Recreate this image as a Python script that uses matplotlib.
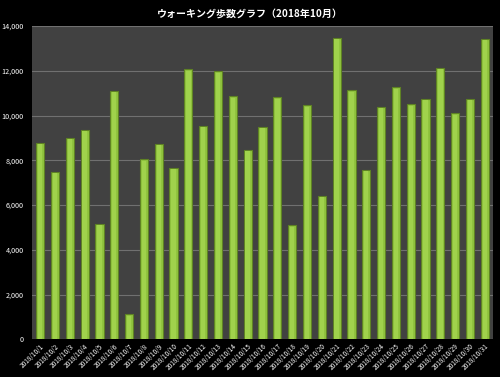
import matplotlib.pyplot as plt
from matplotlib.ticker import FuncFormatter

plt.rcParams['font.family'] = ['Noto Sans CJK JP', 'DejaVu Sans']

# =========================
# DATOS
# =========================
days = [f"2018/10/{d}" for d in range(1, 32)]
steps = [8780, 7500, 9010, 9370, 5180, 11100, 1120, 8050, 8750, 7680,
         12060, 9550, 11970, 10860, 8480, 9500, 10810, 5100, 10460, 6410,
         13470, 11120, 7580, 10380, 11260, 10500, 10750, 12130, 10100, 10750,
         13430]
title = "ウォーキング歩数グラフ（2018年10月）"

# =========================
# GRÁFICO
# =========================
fig = plt.figure(figsize=(5, 3.77), dpi=100, facecolor='black')
ax = fig.add_axes([0.064, 0.0995, 0.922, 0.8315])
ax.set_facecolor('#414141')

x = range(len(days))
ax.bar(x, steps, width=0.55, color='#90c43e', edgecolor='#5f8224',
       linewidth=0.8, zorder=3)
# brillo central de cada barra
ax.bar(x, [s - 60 for s in steps], width=0.3, color='#a0d24c',
       linewidth=0, zorder=4)

ax.set_ylim(0, 14000)
ax.set_xlim(-0.55, len(days) - 0.45)
ax.set_yticks(range(0, 14001, 2000))
ax.yaxis.set_major_formatter(FuncFormatter(lambda v, p: f"{int(v):,}"))
ax.grid(axis='y', color='#707070', linewidth=0.8, zorder=0)

ax.set_xticks(list(x))
ax.set_xticklabels(days, rotation=45, ha='right', rotation_mode='anchor',
                   fontsize=4.7, color='white')
ax.tick_params(axis='y', labelsize=5.2, colors='white', length=0, pad=6)
ax.tick_params(axis='x', length=0, pad=2)
for s in ax.spines.values():
    s.set_visible(False)

fig.text(0.5, 0.965, title, ha='center', va='center', color='white',
         fontsize=7.2, fontweight='bold')

plt.savefig('out.png', dpi=100, facecolor='black')
